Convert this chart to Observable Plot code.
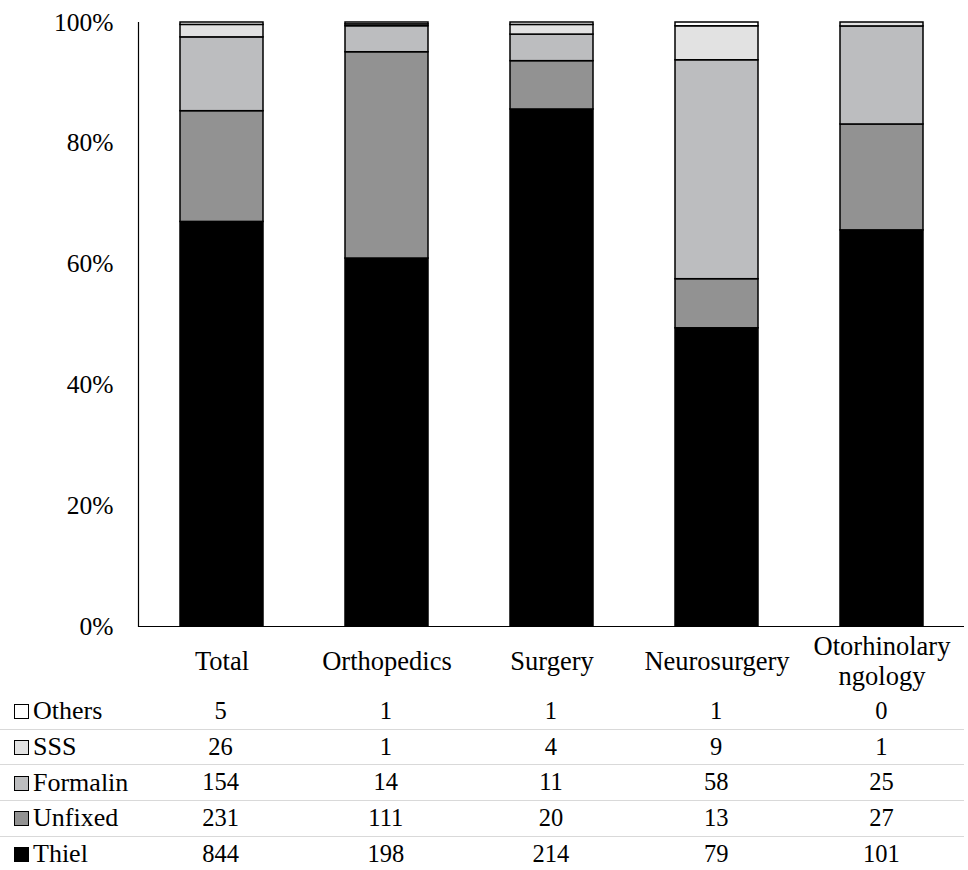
<!DOCTYPE html>
<html>
<head>
<meta charset="utf-8">
<script src="https://cdn.jsdelivr.net/npm/d3@7"></script>
<script src="https://cdn.jsdelivr.net/npm/@observablehq/plot@0.6"></script>
<style>
  html, body { margin: 0; padding: 0; background: #fff; }
  body { width: 968px; height: 870px; overflow: hidden; }
  #chart svg { display: block; }
  table.dt { border-collapse: collapse; table-layout: fixed; width: 964px; margin-left: 0; font-size: 24.5px; color: #000; }
  table.dt td { height: 34.7px; padding: 0; text-align: center; vertical-align: middle; line-height: 1; white-space: nowrap; }
  table.dt td.lab { text-align: left; padding-left: 14px; font-size: 26px; }
  table.dt tr + tr td { border-top: 1.5px solid #d9d9d9; }
  .sw { display: inline-block; width: 15px; height: 15px; border: 1.3px solid #000; margin-right: 4px; vertical-align: 0px; box-sizing: border-box; }
</style>
</head>
<body>
<div id="chart" style="font-family:'Liberation Serif', serif"></div>
<div id="table" style="font-family:'Liberation Serif', serif"></div>
<script>
const categories = ["Total", "Orthopedics", "Surgery", "Neurosurgery", "Otorhinolaryngology"];
const methods = ["Thiel", "Unfixed", "Formalin", "SSS", "Others"];
const thiel = [844, 198, 214, 79, 101];
const unfixed = [231, 111, 20, 13, 27];
const formalin = [154, 14, 11, 58, 25];
const sss = [26, 1, 4, 9, 1];
const others = [5, 1, 1, 1, 0];
const yTicks = [0, 0.2, 0.4, 0.6, 0.8, 1];
const colors = ["#000000", "#929292", "#bcbdbf", "#e2e2e2", "#ffffff"];
const FONT = "Liberation Serif";

const series = {Thiel: thiel, Unfixed: unfixed, Formalin: formalin, SSS: sss, Others: others};
const rows = [];
methods.forEach(m => categories.forEach((c, i) => rows.push({category: c, method: m, count: series[m][i]})));

const labelFmt = d => d === "Otorhinolaryngology" ? "Otorhinolary\nngology" : d;

const chart = Plot.plot({
  width: 968,
  height: 694,
  marginLeft: 138,
  marginRight: 4,
  marginTop: 22,
  marginBottom: 68,
  style: {fontSize: "25px", color: "#000", background: "#fff"},
  x: {domain: categories, paddingInner: 0.5, paddingOuter: 0.25, label: null},
  y: {domain: [0, 1], label: null},
  color: {domain: methods, range: colors},
  marks: [
    Plot.barY(rows, Plot.stackY({offset: "normalize", order: methods}, {
      x: "category", y: "count", fill: "method", stroke: "#000", strokeWidth: 1.5
    })),
    Plot.frame({anchor: "left", stroke: "#000", strokeWidth: 1.2}),
    Plot.ruleY([0], {stroke: "#000", strokeWidth: 1.2}),
    Plot.axisY({ticks: yTicks, tickSize: 0, tickPadding: 25, tickFormat: d => Math.round(d * 100) + "%", fontSize: 25.5, fontFamily: FONT, label: null}),
    Plot.axisX({tickSize: 0, tickPadding: 0, lineAnchor: "middle", lineHeight: 1.13, dy: 34, tickFormat: labelFmt, fontSize: 26.5, fontFamily: FONT, label: null})
  ]
});
chart.style.fontFamily = FONT;
document.getElementById("chart").appendChild(chart);

// data table below the chart
const table = document.createElement("table");
table.className = "dt";
table.style.fontFamily = FONT;
const cg = document.createElement("colgroup");
const c0 = document.createElement("col"); c0.style.width = "138px"; cg.appendChild(c0);
categories.forEach(() => { const c = document.createElement("col"); c.style.width = "165.2px"; cg.appendChild(c); });
table.appendChild(cg);
[...methods].reverse().forEach(m => {
  const tr = document.createElement("tr");
  const td = document.createElement("td");
  td.className = "lab";
  td.style.fontFamily = FONT;
  const sw = document.createElement("span");
  sw.className = "sw";
  sw.style.background = colors[methods.indexOf(m)];
  td.appendChild(sw);
  td.appendChild(document.createTextNode(m));
  tr.appendChild(td);
  series[m].forEach(v => { const c = document.createElement("td"); c.style.fontFamily = FONT; c.textContent = v; tr.appendChild(c); });
  table.appendChild(tr);
});
document.getElementById("table").appendChild(table);
</script>
</body>
</html>
